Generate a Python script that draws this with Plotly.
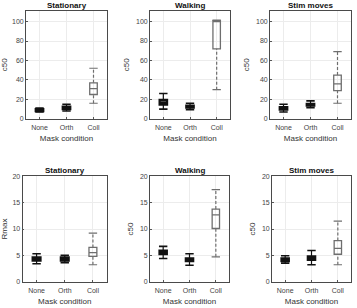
import plotly.graph_objects as go

W, H = 357, 308

categories = ["None", "Orth", "Coll"]
positions = [1, 2, 3]
titles = ["Stationary", "Walking", "Stim moves", "Stationary", "Walking", "Stim moves"]
ylabels = ["c50", "c50", "c50", "Rmax", "c50", "c50"]

# per panel: [None, Orth, Coll]
c50_stat_q1 = [8.0, 10.0, 25.0]
c50_stat_med = [9.0, 11.0, 31.0]
c50_stat_q3 = [10.0, 12.5, 37.0]
c50_stat_lo = [7.0, 8.0, 16.0]
c50_stat_hi = [11.0, 15.0, 52.0]

c50_walk_q1 = [14.5, 11.5, 72.0]
c50_walk_med = [17.0, 12.5, 100.5]
c50_walk_q3 = [19.5, 13.5, 101.0]
c50_walk_lo = [10.0, 9.5, 30.0]
c50_walk_hi = [26.0, 16.0, 101.5]

c50_stim_q1 = [9.5, 13.5, 29.0]
c50_stim_med = [10.5, 14.5, 36.0]
c50_stim_q3 = [12.0, 15.5, 45.0]
c50_stim_lo = [7.0, 11.5, 16.0]
c50_stim_hi = [15.0, 18.5, 69.0]

rmax_stat_q1 = [4.0, 4.0, 4.8]
rmax_stat_med = [4.3, 4.3, 5.5]
rmax_stat_q3 = [4.6, 4.6, 6.5]
rmax_stat_lo = [3.4, 3.6, 3.2]
rmax_stat_hi = [5.3, 5.0, 9.2]

c50b_walk_q1 = [5.2, 3.9, 10.1]
c50b_walk_med = [5.5, 4.2, 12.7]
c50b_walk_q3 = [5.9, 4.4, 13.8]
c50b_walk_lo = [4.4, 3.1, 4.7]
c50b_walk_hi = [6.7, 5.3, 17.5]

c50b_stim_q1 = [3.9, 4.1, 5.2]
c50b_stim_med = [4.2, 4.5, 6.3]
c50b_stim_q3 = [4.4, 4.8, 7.8]
c50b_stim_lo = [3.5, 3.2, 3.2]
c50b_stim_hi = [4.9, 5.9, 11.5]

panels = [
    (c50_stat_q1, c50_stat_med, c50_stat_q3, c50_stat_lo, c50_stat_hi),
    (c50_walk_q1, c50_walk_med, c50_walk_q3, c50_walk_lo, c50_walk_hi),
    (c50_stim_q1, c50_stim_med, c50_stim_q3, c50_stim_lo, c50_stim_hi),
    (rmax_stat_q1, rmax_stat_med, rmax_stat_q3, rmax_stat_lo, rmax_stat_hi),
    (c50b_walk_q1, c50b_walk_med, c50b_walk_q3, c50b_walk_lo, c50b_walk_hi),
    (c50b_stim_q1, c50b_stim_med, c50b_stim_q3, c50b_stim_lo, c50b_stim_hi),
]
yranges = [[0, 111], [0, 111], [0, 111], [0, 20], [0, 20], [0, 20]]
ytickvals = [[0, 20, 40, 60, 80, 100]] * 3 + [[0, 5, 10, 15, 20]] * 3

colors = ["#111111", "#111111", "#6e6e6e"]
lwidths = [2.2, 2.2, 1.3]

# pixel boxes (left, right, top, bottom)
px = [
    (26, 107, 7, 117.5),
    (150, 230, 7, 117.5),
    (270, 351, 7, 117.5),
    (22.5, 107, 176.5, 284),
    (150, 229, 176.5, 284),
    (272, 351, 176.5, 284),
]

FONT = "Liberation Sans, Arial, sans-serif"
fig = go.Figure()
layout = dict(
    width=W, height=H, margin=dict(l=0, r=0, t=0, b=0),
    paper_bgcolor="white", plot_bgcolor="white", showlegend=False,
    font=dict(family=FONT, size=7, color="#444444"),
)
annotations = []

for i, (q1, med, q3, lo, hi) in enumerate(panels):
    xa = "x" if i == 0 else f"x{i+1}"
    ya = "y" if i == 0 else f"y{i+1}"
    for j in range(3):
        c = colors[j]
        lw = lwidths[j]
        fig.add_trace(go.Box(
            x=[positions[j]], q1=[q1[j]], median=[med[j]], q3=[q3[j]],
            lowerfence=[q1[j]], upperfence=[q3[j]],
            width=0.28, fillcolor="rgba(255,255,255,0)",
            line=dict(color=c, width=lw), boxpoints=False,
            xaxis=xa, yaxis=ya, hoverinfo="skip",
        ))
        # whiskers (dashed for Coll)
        for a, b in ((q3[j], hi[j]), (lo[j], q1[j])):
            fig.add_trace(go.Scatter(
                x=[positions[j], positions[j]], y=[a, b], mode="lines",
                line=dict(color=c, width=1.2, dash="3px,2px" if j == 2 else "solid"),
                xaxis=xa, yaxis=ya, hoverinfo="skip",
            ))
        # caps
        fig.add_trace(go.Scatter(
            x=[positions[j], positions[j]], y=[lo[j], hi[j]], mode="markers",
            marker=dict(symbol="line-ew", size=6, line=dict(color=c, width=1.2 if j == 2 else 1.6)),
            xaxis=xa, yaxis=ya, hoverinfo="skip",
        ))
    l, r, t, b = px[i]
    xdom = [l / W, r / W]
    ydom = [1 - b / H, 1 - t / H]
    axkey_x = "xaxis" if i == 0 else f"xaxis{i+1}"
    axkey_y = "yaxis" if i == 0 else f"yaxis{i+1}"
    layout[axkey_x] = dict(
        domain=xdom, anchor=ya, range=[0.5, 3.5],
        tickmode="array", tickvals=positions, ticktext=categories,
        showgrid=True, gridcolor="#ececec", gridwidth=1,
        showline=True, linecolor="#4a4a4a", linewidth=0.8, mirror=True,
        ticks="inside", ticklen=2, tickcolor="#555555",
        ticklabelstandoff=2,
        zeroline=False, tickfont=dict(size=7, color="#444444", family=FONT),
        title=dict(text="Mask condition", font=dict(size=8, color="#333333", family=FONT), standoff=5),
    )
    layout[axkey_y] = dict(
        domain=ydom, anchor=xa, range=yranges[i],
        tickmode="array", tickvals=ytickvals[i],
        showgrid=True, gridcolor="#ececec", gridwidth=1,
        showline=True, linecolor="#4a4a4a", linewidth=0.8, mirror=True,
        ticks="inside", ticklen=2, tickcolor="#555555",
        zeroline=False, tickfont=dict(size=7, color="#444444", family=FONT),
        title=dict(text=ylabels[i], font=dict(size=8, color="#333333", family=FONT), standoff=5),
    )
    annotations.append(dict(
        text=f"<b>{titles[i]}</b>", x=(xdom[0] + xdom[1]) / 2, y=ydom[1],
        xref="paper", yref="paper", xanchor="center", yanchor="bottom",
        yshift=-1, showarrow=False, font=dict(size=8, color="#111111", family=FONT),
    ))

layout["annotations"] = annotations
fig.update_layout(**layout)
fig.write_html("out.html")
